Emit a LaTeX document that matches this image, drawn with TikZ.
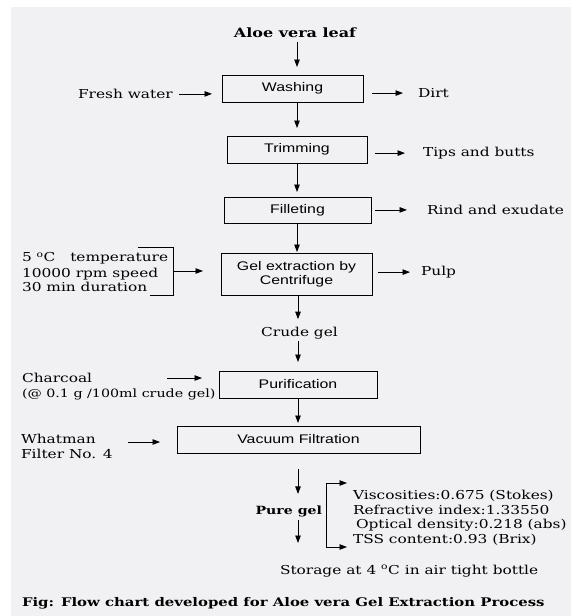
\documentclass[tikz,border=0pt]{standalone}
\usepackage{fontspec}
\setmainfont[FakeStretch=1.25]{DejaVu Serif}
\newfontfamily\boxfont[FakeStretch=1.27]{Liberation Sans}
\usetikzlibrary{arrows.meta,calc}
\definecolor{paper}{RGB}{241,241,243}
\begin{document}
\begin{tikzpicture}[x=1pt,y=-1pt,
  every node/.style={inner sep=0pt, outer sep=0pt},
  lbl/.style={anchor=base west, font=\fontsize{12.3}{15}\selectfont},
  blbl/.style={font=\fontsize{12}{15}\selectfont\bfseries},
  stepbox/.style={draw, line width=0.8pt, font=\boxfont\fontsize{12.5}{14}\selectfont, align=center},
  arr/.style={line width=0.8pt, -{Triangle[length=7.5pt,width=5.5pt]}},
  ln/.style={line width=0.8pt}
]
\useasboundingbox (0,0) rectangle (571,616);
\fill[paper] (11,7) rectangle (571,616);

% process boxes
\node[stepbox, minimum width=141pt, minimum height=27pt] (wash) at (292.5,88.5) {Washing};
\node[stepbox, minimum width=140pt, minimum height=27pt] (trim) at (297,149.5) {Trimming};
\node[stepbox, minimum width=147pt, minimum height=26pt] (fillet) at (297.5,210) {Filleting};
\node[stepbox, minimum width=151pt, minimum height=42pt] (gel) at (296.5,274) {Gel extraction by\\Centrifuge};
\node[stepbox, minimum width=158pt, minimum height=27pt] (purif) at (298,384.5) {Purification};
\node[stepbox, minimum width=243pt, minimum height=27pt] (vac) at (298.5,439.5) {Vacuum Filtration};

% texts
\node[blbl, font=\fontsize{12.8}{15}\selectfont\bfseries, anchor=base] (leaf) at (295,37.5) {Aloe vera leaf};
\node[lbl] (fw) at (78,98.5) {Fresh water};
\node[lbl] (dirt) at (418,97.5) {Dirt};
\node[lbl] (tips) at (423,156.5) {Tips and butts};
\node[lbl] (rind) at (427,214.5) {Rind and exudate};
\node[lbl] (pulp) at (421,275.5) {Pulp};
\node[lbl] (cond1) at (22,261.5) {5 \textsuperscript{o}C\hspace*{10pt} temperature};
\node[lbl] (cond2) at (22,277.5) {10000 rpm speed};
\node[lbl] (cond3) at (22,291.5) {30 min duration};
\node[lbl, anchor=base] (crude) at (299.5,336.5) {Crude gel};
\node[lbl] (char1) at (22,382.5) {Charcoal};
\node[lbl, font=\fontsize{11.4}{15}\selectfont] (char2) at (22,397.5) {(@ 0.1 g /100ml crude gel)};
\node[lbl] (what1) at (21,443.5) {Whatman};
\node[lbl] (what2) at (21,458.5) {Filter No. 4};
\node[blbl, font=\fontsize{11.3}{15}\selectfont\bfseries, anchor=base east] (pure) at (322,514.5) {Pure gel};
\node[lbl] (prop1) at (353,499.5) {Viscosities:0.675 (Stokes)};
\node[lbl] (prop2) at (353,514.5) {Refractive index:1.33550};
\node[lbl] (prop3) at (356,528.5) {Optical density:0.218 (abs)};
\node[lbl] (prop4) at (353,543.5) {TSS content:0.93 (Brix)};
\node[lbl] (store) at (280,574) {Storage at 4 \textsuperscript{o}C in air tight bottle};
\node[blbl, font=\fontsize{11.9}{15}\selectfont\bfseries, anchor=base west] (cap) at (22,606) {Fig: Flow chart developed for Aloe vera Gel Extraction Process};

% free-end coordinates
\coordinate (br1) at (138,247);
\coordinate (br2) at (173,247);
\coordinate (br3) at (173,295);
\coordinate (br4) at (150,295);
\coordinate (brm) at (173,271);
\coordinate (ca) at (167,378);
\coordinate (wa) at (128,442);
\coordinate (pend) at (298,543);
\coordinate (pv) at (326,515);
\coordinate (pta) at (347,483);
\coordinate (ptb) at (347,547);

% main flow
\draw[arr, shorten <=4.5pt, shorten >=8pt] (leaf.base -| trim) -- (wash.north -| trim);
\draw[arr, shorten >=8pt] (wash.south -| trim) -- (trim.north);
\draw[arr, shorten >=5pt] (trim.south) -- (fillet.north -| trim);
\draw[arr, shorten >=1pt] (fillet.south -| trim) -- (gel.north -| trim);
\draw[arr, shorten >=8pt] (gel.south -| purif) -- (crude.north -| purif);
\draw[arr, shorten <=2pt, shorten >=9pt] (crude.south -| purif) -- (purif.north);
\draw[arr, shorten >=3pt] (purif.south) -- (vac.north -| purif);
\draw[arr, shorten <=16pt, shorten >=12pt] (vac.south -| purif) -- (pure.north -| purif);
\draw[arr, shorten <=2.5pt] (pure.south -| purif) -- (pend);

% side inputs / outputs
\draw[arr, shorten <=6pt, shorten >=10pt] (fw.east) -- (fw.east -| wash.west);
\draw[arr, shorten <=9pt, shorten >=15pt] (dirt.west -| wash.east) -- (dirt.west);
\draw[arr, shorten <=8pt, shorten >=18pt] (tips.west -| trim.east) -- (tips.west);
\draw[arr, shorten <=4pt, shorten >=20pt] (rind.west -| fillet.east) -- (rind.west);
\draw[arr, shorten <=6pt, shorten >=11pt] (pulp.west -| gel.east) -- (pulp.west);
\draw[ln] (br1) -- (br2) -- (br3) -- (br4);
\draw[arr, shorten >=18pt] (brm) -- (brm -| gel.west);
\draw[arr, shorten >=17pt] (ca) -- (ca -| purif.west);
\draw[arr, shorten >=17pt] (wa) -- (wa -| vac.west);
\draw[arr] (pv) |- (pta);
\draw[arr] (pv) |- (ptb);
\end{tikzpicture}
\end{document}
